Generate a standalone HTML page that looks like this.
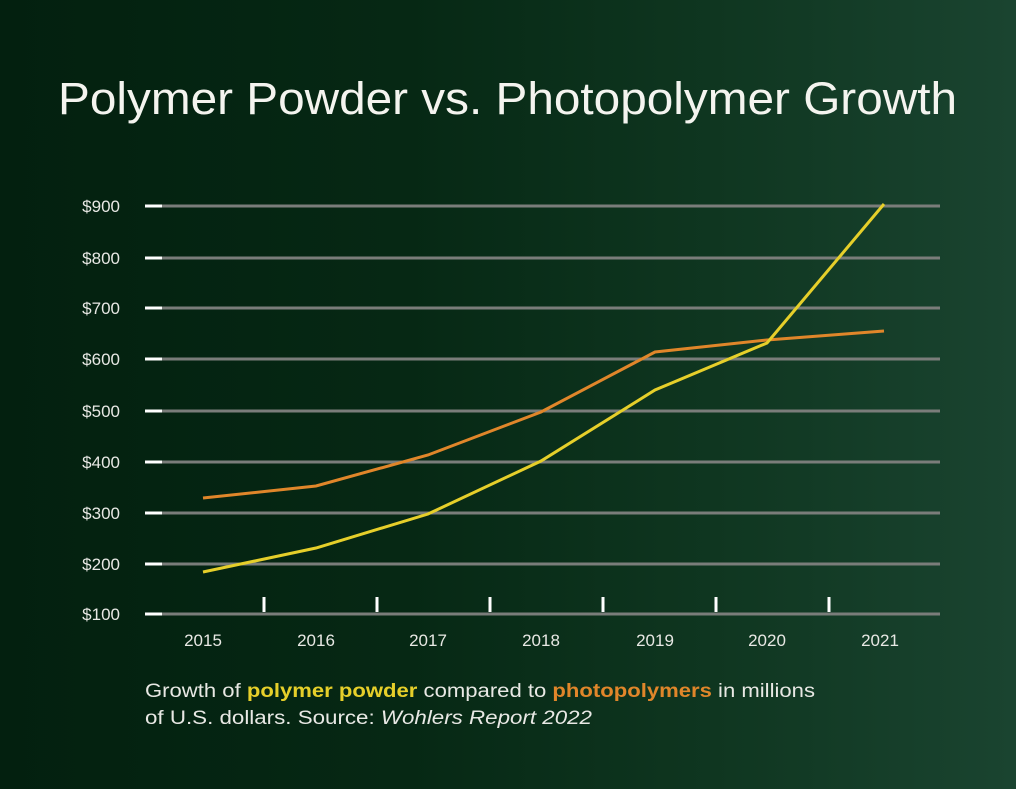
<!DOCTYPE html>
<html><head><style>
html,body{margin:0;padding:0;background:#fff;}
.wrap{position:relative;width:1024px;height:795px;background:#fff;overflow:hidden;}
.bg{position:absolute;left:0;top:0;width:1016px;height:789px;background:linear-gradient(90deg,#03200f 0%,#062814 40%,#0f3620 70%,#1a4430 100%);}
svg{position:absolute;left:0;top:0;}
</style></head><body><div class="wrap"><div class="bg"></div>
<svg width="1024" height="795" font-family="Liberation Sans, sans-serif">
<text x="58" y="114" textLength="899" lengthAdjust="spacingAndGlyphs" fill="#f4f4ef" font-size="45">Polymer Powder vs. Photopolymer Growth</text>
<g stroke="#7a7d7a" stroke-width="3">
<line x1="148" y1="206" x2="940" y2="206"/><line x1="148" y1="258" x2="940" y2="258"/>
<line x1="148" y1="308" x2="940" y2="308"/><line x1="148" y1="359" x2="940" y2="359"/>
<line x1="148" y1="411" x2="940" y2="411"/><line x1="148" y1="462" x2="940" y2="462"/>
<line x1="148" y1="513" x2="940" y2="513"/><line x1="148" y1="564" x2="940" y2="564"/>
<line x1="148" y1="614" x2="940" y2="614"/></g>
<g stroke="#fff" stroke-width="3">
<line x1="145" y1="206" x2="162" y2="206"/><line x1="145" y1="258" x2="162" y2="258"/>
<line x1="145" y1="308" x2="162" y2="308"/><line x1="145" y1="359" x2="162" y2="359"/>
<line x1="145" y1="411" x2="162" y2="411"/><line x1="145" y1="462" x2="162" y2="462"/>
<line x1="145" y1="513" x2="162" y2="513"/><line x1="145" y1="564" x2="162" y2="564"/>
<line x1="145" y1="614" x2="162" y2="614"/>
<line x1="264" y1="597" x2="264" y2="612"/><line x1="377" y1="597" x2="377" y2="612"/>
<line x1="490" y1="597" x2="490" y2="612"/><line x1="603" y1="597" x2="603" y2="612"/>
<line x1="716" y1="597" x2="716" y2="612"/><line x1="829" y1="597" x2="829" y2="612"/></g>
<g fill="#e8e8e4" font-size="17" text-anchor="end">
<text x="120" y="212">$900</text><text x="120" y="264">$800</text><text x="120" y="314">$700</text>
<text x="120" y="365">$600</text><text x="120" y="417">$500</text><text x="120" y="468">$400</text>
<text x="120" y="519">$300</text><text x="120" y="570">$200</text><text x="120" y="620">$100</text></g>
<g fill="#e8e8e4" font-size="17" text-anchor="middle">
<text x="203" y="646">2015</text><text x="316" y="646">2016</text><text x="428" y="646">2017</text>
<text x="541" y="646">2018</text><text x="655" y="646">2019</text><text x="767" y="646">2020</text><text x="880" y="646">2021</text></g>
<polyline fill="none" stroke="#e0862a" stroke-width="3" points="203,498 316,486 428,455 541,412 655,352 767,340 884,331"/>
<polyline fill="none" stroke="#e6cf2a" stroke-width="3" points="203,572 316,548 428,514 541,461 655,390 767,343 884,204"/>
<g font-size="19" fill="#e8e8e4">
<text x="145" y="697" textLength="670" lengthAdjust="spacingAndGlyphs">Growth of <tspan fill="#e6cf2a" font-weight="bold">polymer powder</tspan> compared to <tspan fill="#e0862a" font-weight="bold">photopolymers</tspan> in millions</text>
<text x="145" y="724" textLength="447" lengthAdjust="spacingAndGlyphs">of U.S. dollars.  Source: <tspan font-style="italic">Wohlers Report 2022</tspan></text></g>
</svg></div></body></html>
